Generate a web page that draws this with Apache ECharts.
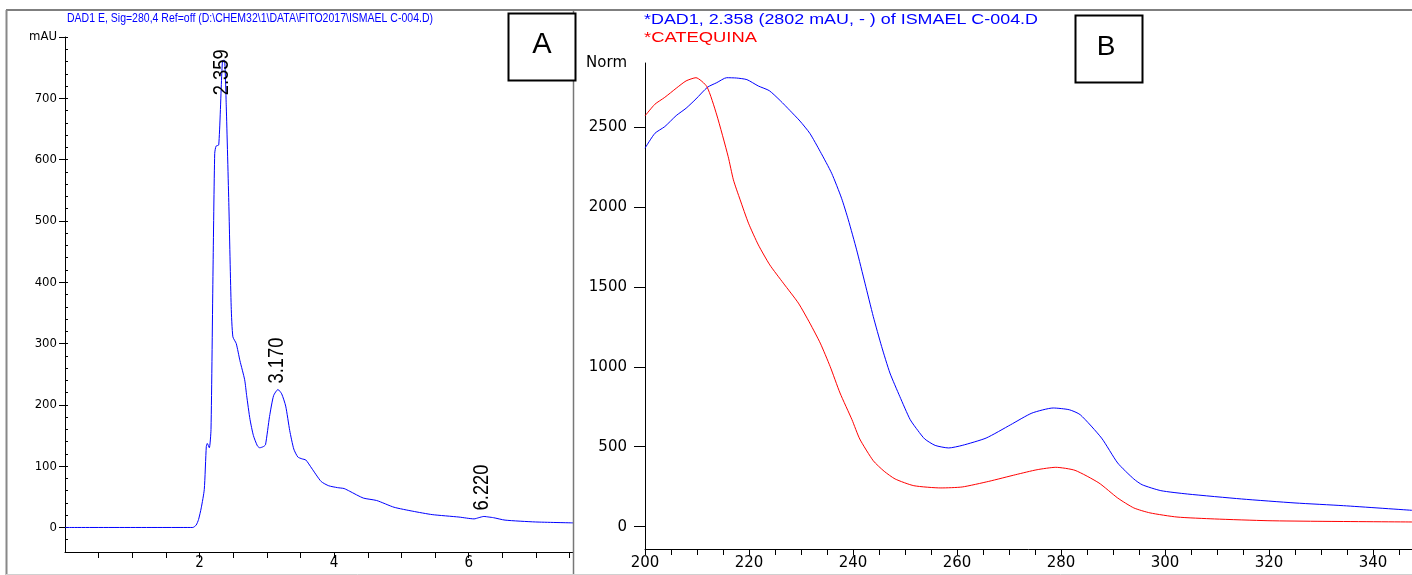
<!DOCTYPE html>
<html>
<head>
<meta charset="utf-8">
<script src="https://cdn.jsdelivr.net/npm/echarts@6/dist/echarts.min.js"></script>
<style>
html,body{margin:0;padding:0;background:#fff;}
#chart{width:1412px;height:575px;}
</style>
</head>
<body>
<div id="chart"></div>
<script>
// ---------- Panel A: chromatogram (retention time in min, signal in mAU) ----------
const timeA = [0, 1.90, 1.95, 1.985, 2.025, 2.07, 2.10, 2.115, 2.145, 2.17, 2.20, 2.225, 2.245, 2.285, 2.33, 2.345, 2.37,
  2.397, 2.436, 2.47, 2.495, 2.545, 2.60, 2.67, 2.70, 2.75, 2.80, 2.86, 2.895, 2.95, 2.98, 3.04, 3.10, 3.165, 3.22,
  3.28, 3.34, 3.40, 3.46, 3.52, 3.58, 3.664, 3.807, 3.92, 4.05, 4.148, 4.233, 4.433, 4.632, 4.89, 5.17, 5.457,
  5.855, 6.08, 6.15, 6.225, 6.30, 6.367, 6.54, 6.99, 7.55];
const signalA = [0, 0, 4, 13, 32, 62, 132, 137, 130, 160, 420, 610, 622, 624, 740, 762, 762,
  686, 523, 360, 311, 300, 272, 241, 215, 176, 150, 133, 130, 132, 135, 181, 215, 225, 218,
  198, 158, 128, 115, 112, 110, 97, 75, 68, 65, 63.5, 59, 48, 44, 33, 26.5, 21,
  17, 14, 16, 18, 17, 16, 12, 9, 7.5];
const peakTimes = [2.359, 3.170, 6.220];
const peakHeights = [762, 225, 18];
const peakNames = ['2.359', '3.170', '6.220'];
const yLabelsA = [0, 100, 200, 300, 400, 500, 600, 700];
const xLabelsA = [2, 4, 6];
const titleA = 'DAD1 E, Sig=280,4 Ref=off (D:\\CHEM32\\1\\DATA\\FITO2017\\ISMAEL C-004.D)';

// ---------- Panel B: UV spectra (wavelength nm, normalised) ----------
const blueWl = [200, 201.9, 203.8, 206, 207.9, 209.8, 212, 213.8, 215.7, 217.6, 219.6, 221.8, 223.9, 226, 227.9, 229.8,
  231.7, 233.7, 235.9, 237.8, 239.1, 240.7, 242.3, 243.9, 245.5, 247.1, 249, 251, 252.5, 253.8, 255.8, 258.4, 261,
  265.6, 270.3, 274.4, 278.5, 281.6, 283.7, 287.8, 290.9, 294, 295.6, 299.2, 304.3, 314.7, 325, 334.3, 347.5];
const blueNorm = [2367, 2460, 2502, 2571, 2617, 2675, 2748, 2777, 2808, 2806, 2796, 2756, 2727, 2665, 2602, 2537,
  2460, 2346, 2210, 2054, 1919, 1731, 1523, 1314, 1127, 961, 814, 669, 600, 548, 508, 492, 508,
  554, 637, 710, 742, 731, 700, 554, 398, 298, 262, 225, 204, 173, 148, 131, 102];
const redWl = [200, 201.9, 203.8, 206, 207.9, 209.8, 211.9, 213.8, 216, 217, 218.3, 219.9, 221.8, 224, 226.6, 229.5,
  231.7, 233.7, 235.6, 237.5, 239.8, 241.3, 243.9, 246, 248.1, 251.7, 256.9, 261, 266.1, 271.3, 275.4, 279, 282.7,
  287.3, 290.9, 294, 297.1, 302.3, 309.5, 319.8, 330.2, 347.5];
const redNorm = [2569, 2642, 2685, 2742, 2788, 2808, 2752, 2575, 2314, 2169, 2044, 1898, 1762, 1637, 1523, 1398,
  1273, 1148, 1002, 836, 669, 548, 412, 346, 298, 256, 242, 248, 283, 325, 356, 371, 352,
  273, 179, 117, 86, 60, 48, 37, 33, 29];
const yLabelsB = [0, 500, 1000, 1500, 2000, 2500];
const xLabelsB = [200, 220, 240, 260, 280, 300, 320, 340];
const titleB1 = '*DAD1, 2.358 (2802 mAU, - ) of ISMAEL C-004.D';
const titleB2 = '*CATEQUINA';

// ---------- build ----------
const zip = (xs, ys) => xs.map((x, i) => [x, ys[i]]);
const range = (a, b, s) => { const r = []; for (let v = a; v <= b + 1e-9; v += s) r.push(+v.toFixed(6)); return r; };
const NARROW = '"Liberation Sans Narrow", "DejaVu Sans Condensed", "Liberation Sans", sans-serif';
const SANS = '"DejaVu Sans", "Liberation Sans", sans-serif';
const ARIAL = '"Liberation Sans", Arial, sans-serif';
const measureCtx = document.createElement('canvas').getContext('2d');
const textWidth = (txt, size, family) => { measureCtx.font = size + 'px ' + family; return measureCtx.measureText(txt).width; };

const blackLine = { show: true, onZero: false, lineStyle: { color: '#000', width: 1 } };

const option = {
  animation: false,
  backgroundColor: '#fff',
  grid: [
    { left: 65, top: 37, width: 508, height: 515 },
    { left: 645, top: 63, width: 767, height: 486 }
  ],
  xAxis: [
    {
      gridIndex: 0, type: 'value', min: 0, max: 7.55, interval: 0.5,
      axisLine: blackLine,
      axisTick: { show: true, length: 6, lineStyle: { color: '#000' } },
      axisLabel: {
        color: '#000', fontFamily: NARROW, fontSize: 15, margin: 4,
        showMaxLabel: false, showMinLabel: false,
        formatter: v => xLabelsA.includes(v) ? String(v) : ''
      },
      splitLine: { show: false }
    },
    {
      gridIndex: 1, type: 'value', min: 200, max: 347.5, interval: 5,
      axisLine: blackLine,
      axisTick: { show: true, length: 6, lineStyle: { color: '#000' } },
      axisLabel: {
        color: '#000', fontFamily: SANS, fontSize: 15, margin: 7,
        showMaxLabel: false,
        formatter: v => xLabelsB.includes(v) ? String(v) : ''
      },
      splitLine: { show: false }
    }
  ],
  yAxis: [
    {
      gridIndex: 0, type: 'value', min: -40, max: 800,
      axisLine: blackLine,
      axisTick: { show: true, length: 6, customValues: yLabelsA.concat([800]), lineStyle: { color: '#000' } },
      axisLabel: {
        color: '#000', fontFamily: NARROW, fontSize: 13, margin: 8,
        customValues: yLabelsA.concat([800]),
        formatter: v => v === 800 ? 'mAU' : String(v)
      },
      splitLine: { show: false }
    },
    {
      gridIndex: 0, type: 'value', min: -40, max: 800,
      axisLine: { show: false },
      axisTick: { show: true, length: 3, customValues: range(-20, 800, 20), lineStyle: { color: '#000' } },
      axisLabel: { show: false },
      splitLine: { show: false }
    },
    {
      gridIndex: 1, type: 'value', min: -140, max: 2900,
      axisLine: blackLine,
      axisTick: { show: true, length: 11, customValues: yLabelsB, lineStyle: { color: '#000' } },
      axisLabel: {
        color: '#000', fontFamily: SANS, fontSize: 15, margin: 18,
        customValues: yLabelsB.concat([2900]),
        formatter: v => v === 2900 ? 'Norm' : String(v)
      },
      splitLine: { show: false }
    },
    {
      gridIndex: 1, type: 'value', min: -140, max: 2900,
      axisLine: { show: false },
      axisTick: { show: true, length: 5, customValues: range(-100, 2900, 100), lineStyle: { color: '#000' } },
      axisLabel: { show: false },
      splitLine: { show: false }
    }
  ],
  series: [
    {
      type: 'line', xAxisIndex: 0, yAxisIndex: 0,
      data: zip(timeA, signalA), showSymbol: false, smooth: 0.2,
      lineStyle: { color: '#0000ff', width: 1 }, itemStyle: { color: '#0000ff' }, z: 3
    },
    {
      type: 'line', xAxisIndex: 1, yAxisIndex: 2,
      data: zip(blueWl, blueNorm), showSymbol: false, smooth: 0.2,
      lineStyle: { color: '#0000ff', width: 1 }, itemStyle: { color: '#0000ff' }, z: 3
    },
    {
      type: 'line', xAxisIndex: 1, yAxisIndex: 2,
      data: zip(redWl, redNorm), showSymbol: false, smooth: 0.2,
      lineStyle: { color: '#ff0000', width: 1 }, itemStyle: { color: '#ff0000' }, z: 3
    }
  ]
};

const chart = echarts.init(document.getElementById('chart'), null, { renderer: 'canvas' });
chart.setOption(option);

// peak annotations: anchored at each peak apex through the chart's own scales
const peakLabelShift = [[-2, 35], [-1, -6], [-2, -6]];
const PEAK_FONT = 22, PEAK_LEN = 46;
const peakGraphics = peakTimes.map((t, i) => {
  const p = chart.convertToPixel({ seriesIndex: 0 }, [t, peakHeights[i]]);
  const w = textWidth(peakNames[i], PEAK_FONT, ARIAL);
  return {
    type: 'text', z: 40, x: p[0] + peakLabelShift[i][0], y: p[1] + peakLabelShift[i][1],
    rotation: Math.PI / 2, scaleX: PEAK_LEN / w, scaleY: 1,
    style: { text: peakNames[i], fontSize: PEAK_FONT, fontFamily: ARIAL, fill: '#000', align: 'left', verticalAlign: 'middle' }
  };
});

const fitText = (txt, size, family, target) => target / textWidth(txt, size, family);

chart.setOption({
  graphic: { elements: [
    { type: 'line', z: 50, shape: { x1: 6, y1: 10, x2: 1412, y2: 10 }, style: { stroke: '#555', lineWidth: 1.5 } },
    { type: 'line', z: 50, shape: { x1: 6.5, y1: 10, x2: 6.5, y2: 575 }, style: { stroke: '#888', lineWidth: 2 } },
    { type: 'line', z: 50, shape: { x1: 573.5, y1: 10, x2: 573.5, y2: 575 }, style: { stroke: '#777', lineWidth: 1.5 } },
    { type: 'line', z: 50, shape: { x1: 6, y1: 574.5, x2: 1412, y2: 574.5 }, style: { stroke: '#d0d0d0', lineWidth: 1 } },
    { type: 'rect', z: 60, shape: { x: 508.5, y: 13.5, width: 67, height: 67 }, style: { fill: '#fff', stroke: '#000', lineWidth: 2 } },
    { type: 'text', z: 61, x: 542, y: 45, style: { text: 'A', fontSize: 29, fontFamily: ARIAL, fill: '#000', align: 'center', verticalAlign: 'middle' } },
    { type: 'rect', z: 60, shape: { x: 1075.5, y: 15.5, width: 67, height: 67 }, style: { fill: '#fff', stroke: '#000', lineWidth: 2 } },
    { type: 'text', z: 61, x: 1106, y: 47, style: { text: 'B', fontSize: 28, fontFamily: ARIAL, fill: '#000', align: 'center', verticalAlign: 'middle' } },
    { type: 'text', z: 61, x: 67, y: 18, scaleX: fitText(titleA, 13, ARIAL, 366),
      style: { text: titleA, fontSize: 13, fontFamily: ARIAL, fill: '#0000ff', align: 'left', verticalAlign: 'middle' } },
    { type: 'text', z: 61, x: 644, y: 20, scaleX: fitText(titleB1, 15, ARIAL, 394),
      style: { text: titleB1, fontSize: 15, fontFamily: ARIAL, fill: '#0000ff', align: 'left', verticalAlign: 'middle' } },
    { type: 'text', z: 61, x: 644, y: 38, scaleX: fitText(titleB2, 15, ARIAL, 113),
      style: { text: titleB2, fontSize: 15, fontFamily: ARIAL, fill: '#ff0000', align: 'left', verticalAlign: 'middle' } }
  ].concat(peakGraphics) }
});
</script>
</body>
</html>
